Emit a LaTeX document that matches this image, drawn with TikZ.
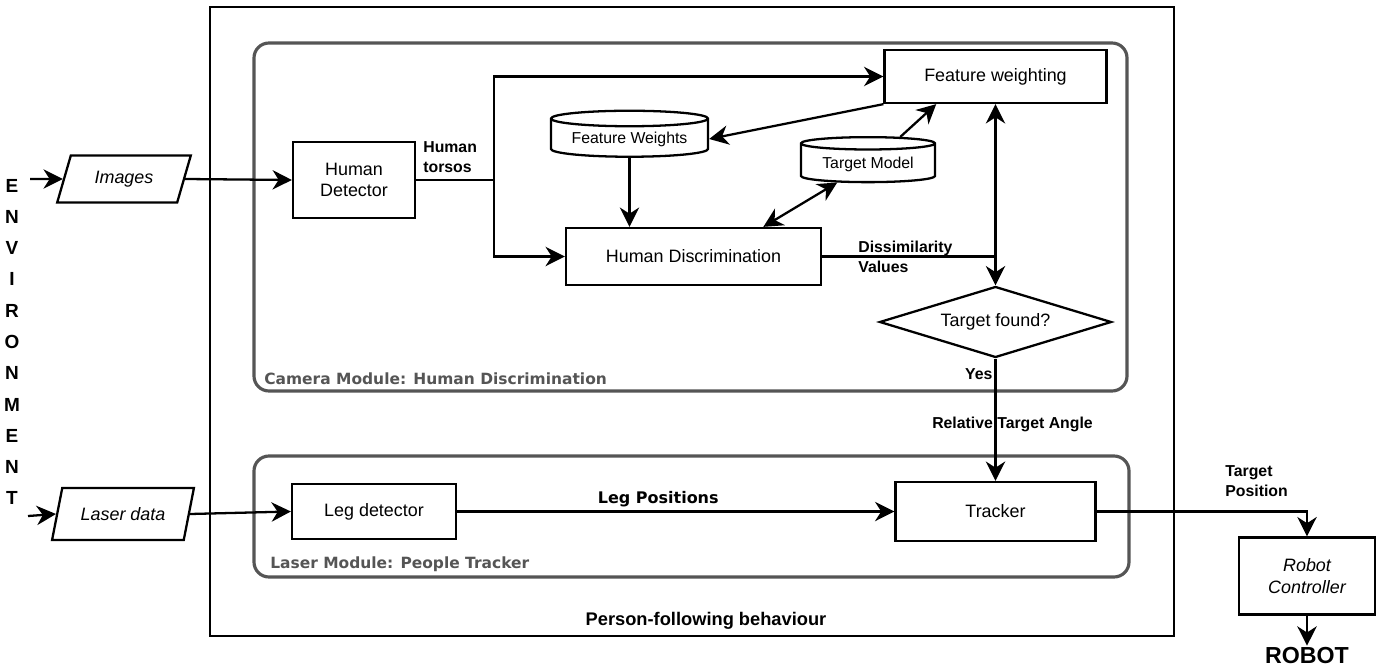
\documentclass[tikz,border=0pt]{standalone}
\usepackage{fontspec}
\setmainfont{Liberation Sans}
\newfontfamily\djvsans{DejaVu Sans}
\usepackage{xcolor}
\definecolor{module-grey}{HTML}{555555}
\usetikzlibrary{shapes.geometric}
\usetikzlibrary{arrows.meta}
\usetikzlibrary{positioning}
\newcommand{\boxfont}{\fontsize{10.2}{12.3}\selectfont}
\newcommand{\tagfont}{\fontsize{9}{11.3}\selectfont\bfseries}
\newcommand{\modfont}{\fontsize{8.8}{10.5}\selectfont\djvsans\bfseries}
\tikzset{box/.style = {draw, line width=1.3pt, align=center, text centered, font=\boxfont}}
\tikzset{io/.style = {draw, line width=1.3pt, trapezium, trapezium left angle=72, trapezium right angle=108, trapezium stretches=true, font=\boxfont\itshape}}
\tikzset{store/.style = {draw, line width=1.3pt, cylinder, shape border rotate=90, aspect=0.13, inner sep=1pt, font=\fontsize{9}{11}\selectfont}}
\tikzset{decision/.style = {draw, line width=1.3pt, diamond, aspect=3.27, inner sep=0pt, font=\boxfont}}
\tikzset{module/.style = {draw=module-grey, line width=1.8pt, rounded corners=0.3cm}}
\tikzset{tag/.style = {inner sep=0pt, align=left, font=\tagfont}}
\tikzset{modtag/.style = {inner sep=0pt, anchor=west, text=module-grey, font=\modfont}}
\tikzset{arr/.style = {line width=1.3pt, -{Stealth[length=11pt, width=11pt, inset=3.5pt]}}}
\tikzset{dblarr/.style = {line width=1.3pt, {Stealth[length=11pt, width=11pt, inset=3.5pt]}-{Stealth[length=11pt, width=11pt, inset=3.5pt]}}}

\begin{document}
\begin{tikzpicture}[x=0.02cm, y=-0.02cm]
\useasboundingbox (0,0) rectangle (1396,669);

% containers
\draw[line width=1.3pt] (210,7) rectangle (1174,636);
\draw[module] (254,43) rectangle (1127,391);
\draw[module] (254,456) rectangle (1129,577);
\node[modtag] (camlbl) at (264,379) {Camera Module: Human Discrimination};
\node[modtag] (laslbl) at (270,564) {Laser Module: People Tracker};
\node[font=\fontsize{10.4}{12}\selectfont\bfseries] (behav) at (706,621) {Person-following behaviour};

\node[font=\fontsize{10.8}{17.8}\selectfont\bfseries, align=center] (env) at (12,342)
  {E\\N\\V\\I\\R\\O\\N\\M\\E\\N\\T};
\coordinate (envimg) at (30,179);
\coordinate (envlas) at (28,516);

\node[io, minimum width=2.68cm, minimum height=0.94cm] (images) at (124,179) {Images};
\node[io, minimum width=2.84cm, minimum height=1.04cm] (laser) at (123,514) {Laser data};
\node[box, minimum width=2.44cm, minimum height=1.52cm] (hdet) at (354,180) {Human\\Detector};
\coordinate (trunk) at (494,180);
\node[box, minimum width=4.44cm, minimum height=1.06cm] (fwt) at (995.5,76.5) {Feature weighting};
\node[store, minimum width=3.14cm, minimum height=0.92cm] (fws) at (629.5,139) {Feature Weights};
\node[store, minimum width=2.68cm, minimum height=0.9cm] (tmod) at (868,164) {Target Model};
\node[box, minimum width=5.1cm, minimum height=1.14cm] (hdis) at (693.5,256.5) {Human Discrimination};
\node[decision, minimum width=4.64cm, minimum height=1.42cm] (tfound) at (995.5,322) {Target found?};
\node[box, minimum width=3.28cm, minimum height=1.1cm] (legd) at (374,511.5) {Leg detector};
\node[box, minimum width=4cm, minimum height=1.18cm] (tracker) at (995.5,511.5) {Tracker};
\node[box, minimum width=2.72cm, minimum height=1.54cm, font=\boxfont\itshape] (robc) at (1307,576) {Robot\\Controller};
\node[font=\fontsize{13.2}{15}\selectfont\bfseries, inner sep=1pt] (robot) at (1307,656) {ROBOT};

\node[tag, anchor=south west] (torsos) at (423,173) {Human\\torsos};
\node[tag, anchor=west] (dissim) at (858,256.5) {Dissimilarity\\Values};
\node[tag, anchor=south west] (tpos) at (1225,497) {Target\\Position};

\draw[arr] (envimg) -- (images.west);
\draw[arr] (envlas) -- (laser.west);
\draw[arr] (images.east) -- (hdet.west);
\draw[arr] (laser.east) -- (legd.west);
\draw[line width=1.3pt] (hdet.east) -- (trunk);
\draw[arr] (trunk) |- (fwt.west);
\draw[arr] (trunk) |- (hdis.west);
\draw[arr] (fwt.south west) -- (fws.0);
\draw[arr] (fws.270) -- (fws.270 |- hdis.north);
\draw[arr] (tmod.40) -- (fwt.205);
\draw[dblarr] (tmod.211) -- (hdis.23);
\draw[line width=1.3pt] (hdis.east) -- (hdis.east -| tfound.north);
\draw[dblarr] (tfound.north) -- (fwt.south);
\draw[arr] (tfound.south) -- node[tag, pos=0, anchor=north east, xshift=-0.04cm, yshift=-0.18cm] (yes) {Yes}
  node[tag, pos=0.54, xshift=0.34cm] (rta) {Relative Target Angle} (tracker.north);
\draw[arr] (legd.east) -- node[pos=0.46, above=2pt, inner sep=0pt, font=\fontsize{9.1}{11}\selectfont\djvsans\bfseries] (legpos) {Leg Positions} (tracker.west);
\draw[arr] (tracker.east) -| (robc.north);
\draw[arr] (robc.south) -- (robot.north);

\end{tikzpicture}
\end{document}
